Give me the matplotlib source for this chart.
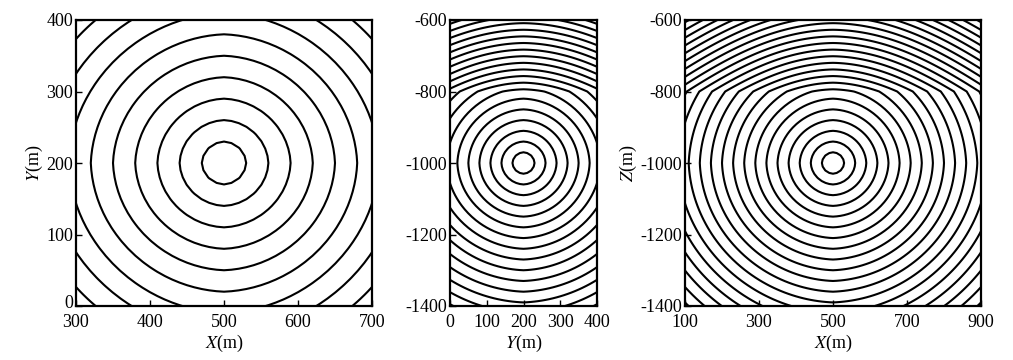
import numpy as np
import matplotlib
matplotlib.use("Agg")
import matplotlib.pyplot as plt
import matplotlib.transforms as mtransforms

plt.rcParams['font.family'] = ['Liberation Serif', 'DejaVu Serif']
plt.rcParams['mathtext.fontset'] = 'stix'
plt.rcParams['axes.unicode_minus'] = False
plt.rcParams['font.size'] = 13

# model
src = [500.0, 200.0, -1000.0]      # source x, y, z (m)
z_interface = -800.0               # layer boundary (m)
v_lower = 3000.0                   # m/s, layer holding the source
v_upper = 1850.0                   # m/s, slower layer on top
aniso = 0.02                       # slight diagonal bias of the eikonal solver
levels_ms = [10, 20, 30, 40, 50, 60, 70, 80, 90, 100, 110, 120, 130, 140, 150,
             160, 170, 180, 190, 200, 210, 220, 230, 240, 250, 260, 270, 280,
             290, 300]

# axes ranges and ticks
xlim1, ylim1 = [300, 700], [0, 400]
xlim2, ylim2 = [0, 400], [-1400, -600]
xlim3, ylim3 = [100, 900], [-1400, -600]
xticks1, yticks1 = [300, 400, 500, 600, 700], [0, 100, 200, 300, 400]
xticks2 = [0, 100, 200, 300, 400]
xticks3 = [100, 300, 500, 700, 900]
zticks = [-1400, -1200, -1000, -800, -600]


def lower_time(dh, dz):
    r = np.hypot(dh, dz)
    th = np.arctan2(dz, dh)
    return r / v_lower * 1000.0 * (1 + aniso * np.abs(np.sin(2 * th)))


def section_time(h, z, h0):
    # vertical section through the source: direct wave below the interface,
    # transmitted wave (min over crossing point) above it
    D = np.abs(h - h0)
    t = lower_time(D, z - src[2])
    up = z > z_interface
    h1 = z_interface - src[2]
    s = np.linspace(0, 1, 301)[:, None]
    Du = D[up][None, :]
    h2 = (z[up] - z_interface)[None, :]
    p = Du * s
    tt = lower_time(p, np.full_like(p, h1)) + np.hypot(Du - p, h2) / v_upper * 1000.0
    t[up] = tt.min(axis=0)
    return t


fig = plt.figure(figsize=(10.13, 3.6), dpi=100)
W, H = 1013.0, 360.0
ax1 = fig.add_axes([76 / W, 1 - 306 / H, 296 / W, 286 / H])
ax2 = fig.add_axes([450 / W, 1 - 306 / H, 147 / W, 286 / H])
ax3 = fig.add_axes([685 / W, 1 - 306 / H, 296 / W, 286 / H])

# panel 1: horizontal plane through the source
X, Y = np.meshgrid(np.arange(300, 701, 10.0), np.arange(0, 401, 10.0))
T1 = lower_time(X - src[0], Y - src[1])
ax1.contour(X, Y, T1, levels=levels_ms, colors='k', linewidths=1.5)

# panel 2: Y-Z section at x = 500
Yg, Zg = np.meshgrid(np.arange(0, 401, 10.0), np.arange(-1400, -599, 10.0))
T2 = section_time(Yg.ravel(), Zg.ravel(), src[1]).reshape(Yg.shape)
ax2.contour(Yg, Zg, T2, levels=levels_ms, colors='k', linewidths=1.5)

# panel 3: X-Z section at y = 200
Xg, Zg3 = np.meshgrid(np.arange(100, 901, 10.0), np.arange(-1400, -599, 10.0))
T3 = section_time(Xg.ravel(), Zg3.ravel(), src[0]).reshape(Xg.shape)
ax3.contour(Xg, Zg3, T3, levels=levels_ms, colors='k', linewidths=1.5)

for ax, xl, yl, xt, yt in [(ax1, xlim1, ylim1, xticks1, yticks1),
                           (ax2, xlim2, ylim2, xticks2, zticks),
                           (ax3, xlim3, ylim3, xticks3, zticks)]:
    ax.set_xlim(xl)
    ax.set_ylim(yl)
    ax.set_xticks(xt)
    ax.set_yticks(yt)
    ax.tick_params(direction='in', length=4, width=1)
    ax.tick_params(axis='x', pad=6)
    ax.tick_params(axis='y', pad=2)
    for sp in ax.spines.values():
        sp.set_linewidth(1.6)

# lift the lowest y label of the first panel a little, as in the original
lbl = ax1.get_yticklabels()[0]
lbl.set_transform(lbl.get_transform() +
                  mtransforms.ScaledTranslation(0, 5 / 100, fig.dpi_scale_trans))

ax1.set_xlabel(r'$X$(m)', labelpad=1)
ax1.set_ylabel(r'$Y$(m)', labelpad=1)
ax2.set_xlabel(r'$Y$(m)', labelpad=1)
ax3.set_xlabel(r'$X$(m)', labelpad=1)
ax3.set_ylabel(r'$Z$(m)', labelpad=1)

fig.savefig('out.png', dpi=100)
